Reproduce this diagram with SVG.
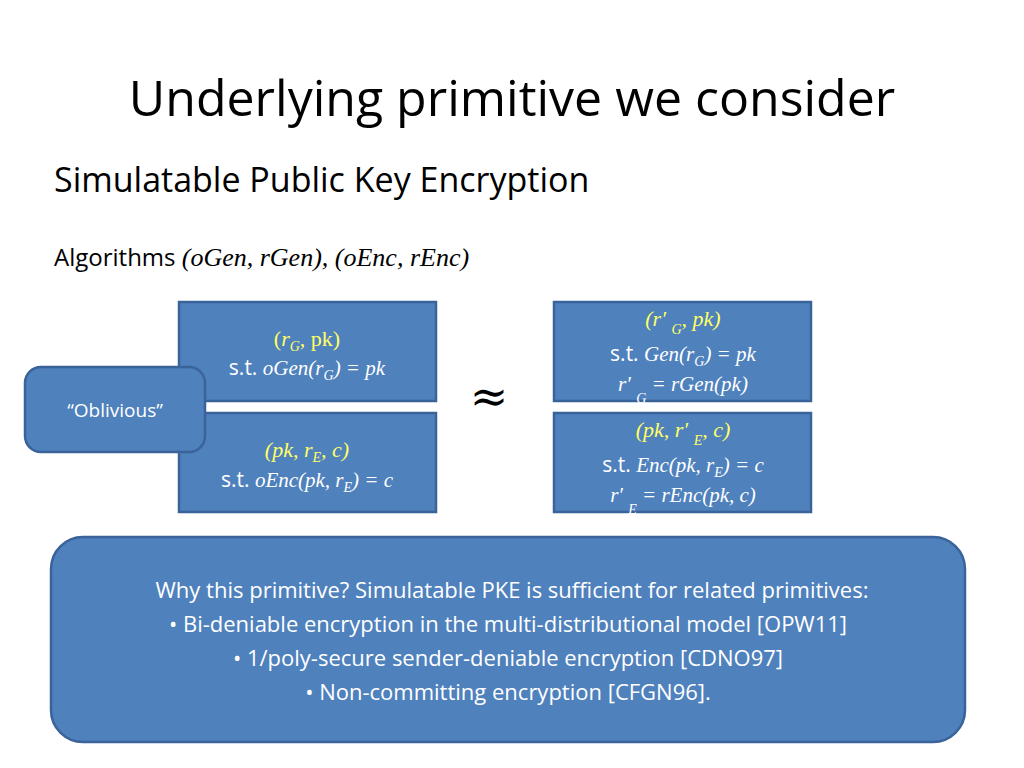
<svg xmlns="http://www.w3.org/2000/svg" width="1024" height="768" viewBox="0 0 1024 768">
<style>
.s{font-family:"Open Sans","Liberation Sans",sans-serif;}
.m{font-family:"Liberation Serif","DejaVu Serif",serif;font-style:italic;}
.box{fill:#4F81BD;stroke:#3A639A;stroke-width:2.5;}
.w{fill:#fff;font-size:21px;}
.y{fill:#FFFF66;font-size:22px;}
.sub{font-size:14px;}
</style>
<rect width="1024" height="768" fill="#fff"/>
<text x="512" y="116" text-anchor="middle" class="s" font-size="50" fill="#000">Underlying primitive we consider</text>
<text x="54" y="192" class="s" font-size="34" fill="#000">Simulatable Public Key Encryption</text>
<text x="54" y="266" class="s" font-size="24" fill="#000">Algorithms <tspan class="m" font-size="26">(oGen, rGen), (oEnc, rEnc)</tspan></text>
<g id="n1"><rect class="box" x="179" y="302" width="257" height="99"/>
<text x="307" y="346" text-anchor="middle" class="m y"><tspan font-style="normal">(</tspan>r<tspan class="sub" dy="5">G</tspan><tspan dy="-5" font-style="normal">, pk)</tspan></text>
<text x="307" y="375" text-anchor="middle" class="m w"><tspan class="s" font-style="normal">s.t. </tspan>oGen(r<tspan class="sub" dy="5">G</tspan><tspan dy="-5">) = pk</tspan></text></g>
<g id="n2"><rect class="box" x="179" y="413" width="257" height="99"/>
<text x="307" y="457" text-anchor="middle" class="m y">(pk, r<tspan class="sub" dy="5">E</tspan><tspan dy="-5">, c)</tspan></text>
<text x="307" y="487" text-anchor="middle" class="m w"><tspan class="s" font-style="normal">s.t. </tspan>oEnc(pk, r<tspan class="sub" dy="5">E</tspan><tspan dy="-5">) = c</tspan></text></g>
<g id="n3"><rect class="box" x="554" y="302" width="257" height="99"/>
<text x="683" y="326" text-anchor="middle" class="m y">(r′ <tspan class="sub" dy="8">G</tspan><tspan dy="-8">, pk)</tspan></text>
<text x="683" y="361" text-anchor="middle" class="m w"><tspan class="s" font-style="normal">s.t. </tspan>Gen(r<tspan class="sub" dy="5">G</tspan><tspan dy="-5">) = pk</tspan></text>
<text x="683" y="391" text-anchor="middle" class="m w">r′ <tspan class="sub" dy="12">G</tspan><tspan dy="-12"> = rGen(pk)</tspan></text></g>
<g id="n4"><rect class="box" x="554" y="413" width="257" height="99"/>
<text x="683" y="437" text-anchor="middle" class="m y">(pk, r′ <tspan class="sub" dy="8">E</tspan><tspan dy="-8">, c)</tspan></text>
<text x="683" y="472" text-anchor="middle" class="m w"><tspan class="s" font-style="normal">s.t. </tspan>Enc(pk, r<tspan class="sub" dy="5">E</tspan><tspan dy="-5">) = c</tspan></text>
<text x="683" y="502" text-anchor="middle" class="m w">r′ <tspan class="sub" dy="12">E</tspan><tspan dy="-12"> = rEnc(pk, c)</tspan></text></g>
<g id="n5"><rect class="box" x="25" y="367" width="180" height="85" rx="16"/>
<text x="115" y="417" text-anchor="middle" class="s" font-size="19" fill="#fff">“Oblivious”</text></g>
<text x="489" y="412" text-anchor="middle" font-family="DejaVu Serif,serif" font-size="46" fill="#000">≈</text>
<g id="n6"><rect class="box" x="51" y="537" width="914" height="205" rx="32"/>
<g class="s" font-size="22" fill="#fff" text-anchor="middle">
<text x="512" y="598">Why this primitive?  Simulatable PKE is sufficient for related primitives:</text>
<text x="508" y="632">•  Bi-deniable encryption in the multi-distributional model [OPW11]</text>
<text x="508" y="666">•  1/poly-secure sender-deniable encryption [CDNO97]</text>
<text x="508" y="700">•  Non-committing encryption [CFGN96].</text>
</g></g>
<g id="connectors"/>
</svg>
